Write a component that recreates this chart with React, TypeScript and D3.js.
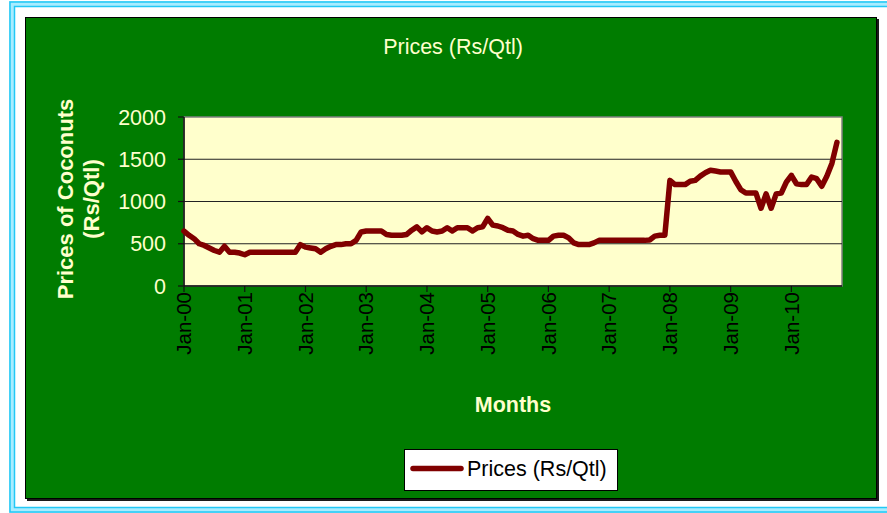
import React, { useEffect, useRef } from "react";
import * as d3 from "d3";

// monthly prices, Jan-00 .. Oct-10
const prices2000 = [650, 600, 560, 500, 480, 450, 420, 400, 470, 400, 400, 390];
const prices2001 = [370, 400, 400, 400, 400, 400, 400, 400, 400, 400, 400, 490];
const prices2002 = [460, 450, 440, 400, 440, 470, 490, 490, 500, 500, 540, 640];
const prices2003 = [650, 650, 650, 650, 610, 600, 600, 600, 610, 660, 700, 640];
const prices2004 = [690, 650, 640, 650, 690, 650, 690, 690, 690, 650, 690, 700];
const prices2005 = [800, 720, 710, 690, 660, 650, 610, 590, 600, 560, 540, 540];
const prices2006 = [540, 590, 600, 600, 570, 510, 490, 490, 490, 510, 540, 540];
const prices2007 = [540, 540, 540, 540, 540, 540, 540, 540, 545, 590, 600, 600];
const prices2008 = [1250, 1200, 1200, 1200, 1240, 1250, 1300, 1340, 1370, 1360, 1350, 1350];
const prices2009 = [1350, 1240, 1140, 1100, 1100, 1100, 920, 1090, 920, 1090, 1100, 1230];
const prices2010 = [1310, 1210, 1200, 1200, 1290, 1270, 1180, 1300, 1450, 1700];

const prices = [
  ...prices2000, ...prices2001, ...prices2002, ...prices2003, ...prices2004, ...prices2005,
  ...prices2006, ...prices2007, ...prices2008, ...prices2009, ...prices2010,
];

const yearTicks = ["Jan-00", "Jan-01", "Jan-02", "Jan-03", "Jan-04", "Jan-05", "Jan-06", "Jan-07", "Jan-08", "Jan-09", "Jan-10"];
const yTicks = [0, 500, 1000, 1500, 2000];

const W = 887;
const H = 513;
const FONT = "'Liberation Sans', Arial, sans-serif";
const PALE = "#FFFFCC";
const LINE = "#800000";

const App = () => {
  const svgRef = useRef<SVGSVGElement>(null);

  useEffect(() => {
    const svg = d3.select(svgRef.current);
    svg.selectAll("*").remove();

    const x = d3.scaleLinear().domain([0, 130]).range([184, 842]);
    const y = d3.scaleLinear().domain([0, 2000]).range([286, 117]);

    // outer cyan frame
    svg.append("rect").attr("x", 12).attr("y", 4).attr("width", 900).attr("height", 506)
      .attr("fill", "none").attr("stroke", "#A8ECFF").attr("stroke-width", 6);
    svg.append("rect").attr("x", 10).attr("y", 2).attr("width", 904).attr("height", 510)
      .attr("fill", "none").attr("stroke", "#22C8F5").attr("stroke-width", 1.5);
    svg.append("rect").attr("x", 14.5).attr("y", 6.5).attr("width", 895).attr("height", 501)
      .attr("fill", "none").attr("stroke", "#22C8F5").attr("stroke-width", 1.5);

    // chart area (green) with shadow
    svg.append("rect").attr("x", 27).attr("y", 19).attr("width", 852).attr("height", 482).attr("fill", "#1a1a1a");
    svg.append("rect").attr("x", 25.5).attr("y", 17.5).attr("width", 851).attr("height", 481)
      .attr("fill", "#007C00").attr("stroke", "#000").attr("stroke-width", 1);

    // plot area
    svg.append("rect").attr("x", 184).attr("y", 117).attr("width", 658).attr("height", 169)
      .attr("fill", PALE).attr("stroke", "#808080").attr("stroke-width", 1.5);

    // gridlines
    svg.append("g").selectAll("line").data(yTicks.filter(d => d > 0 && d < 2000)).join("line")
      .attr("x1", 184).attr("x2", 842)
      .attr("y1", d => y(d)).attr("y2", d => y(d))
      .attr("stroke", "#222").attr("stroke-width", 1.2);

    // axes lines
    svg.append("line").attr("x1", 184).attr("x2", 184).attr("y1", 117).attr("y2", 286)
      .attr("stroke", "#111").attr("stroke-width", 1.5);
    svg.append("line").attr("x1", 184).attr("x2", 842).attr("y1", 286).attr("y2", 286)
      .attr("stroke", "#111").attr("stroke-width", 1.5);

    // y ticks + labels
    svg.append("g").selectAll("line").data(yTicks).join("line")
      .attr("x1", 178).attr("x2", 184)
      .attr("y1", d => y(d)).attr("y2", d => y(d))
      .attr("stroke", "#111").attr("stroke-width", 1.2);
    svg.append("g").selectAll("text").data(yTicks).join("text")
      .attr("x", 166).attr("y", d => y(d)).attr("dy", "0.35em")
      .attr("text-anchor", "end").attr("font-family", FONT).attr("font-size", 21.5)
      .attr("fill", PALE).text(d => d);

    // x ticks + labels
    svg.append("g").selectAll("line").data(yearTicks).join("line")
      .attr("x1", (_, i) => x(i * 12)).attr("x2", (_, i) => x(i * 12))
      .attr("y1", 286).attr("y2", 292)
      .attr("stroke", "#111").attr("stroke-width", 1.2);
    svg.append("g").selectAll("text").data(yearTicks).join("text")
      .attr("transform", (_, i) => `translate(${x(i * 12)},292) rotate(-90)`)
      .attr("dy", "0.35em").attr("text-anchor", "end")
      .attr("font-family", FONT).attr("font-size", 20.5).attr("fill", "#000")
      .text(d => d);

    // price line
    const line = d3.line<number>()
      .x((_, i) => x(i))
      .y(d => y(d));
    svg.append("path").datum(prices)
      .attr("d", line)
      .attr("fill", "none").attr("stroke", LINE).attr("stroke-width", 5.5)
      .attr("stroke-linejoin", "round").attr("stroke-linecap", "round");

    // titles
    svg.append("text").attr("x", 453).attr("y", 54).attr("text-anchor", "middle")
      .attr("font-family", FONT).attr("font-size", 21.5).attr("fill", PALE)
      .text("Prices (Rs/Qtl)");
    svg.append("text").attr("x", 513).attr("y", 412).attr("text-anchor", "middle")
      .attr("font-family", FONT).attr("font-size", 21.5).attr("font-weight", "bold").attr("fill", PALE)
      .text("Months");
    const yTitle = svg.append("text").attr("transform", "translate(65,199) rotate(-90)")
      .attr("text-anchor", "middle").attr("font-family", FONT).attr("font-size", 22)
      .attr("font-weight", "bold").attr("fill", PALE);
    yTitle.append("tspan").attr("x", 0).attr("dy", "0.35em").text("Prices of Coconuts");
    yTitle.append("tspan").attr("x", 0).attr("dy", "1.2em").text("(Rs/Qtl)");

    // legend
    svg.append("rect").attr("x", 404.5).attr("y", 449.5).attr("width", 213).attr("height", 41)
      .attr("fill", "#fff").attr("stroke", "#000").attr("stroke-width", 1);
    svg.append("line").attr("x1", 413).attr("x2", 461).attr("y1", 468.5).attr("y2", 468.5)
      .attr("stroke", LINE).attr("stroke-width", 5.5).attr("stroke-linecap", "round");
    svg.append("text").attr("x", 467).attr("y", 476).attr("font-family", FONT)
      .attr("font-size", 21.5).attr("fill", "#000").text("Prices (Rs/Qtl)");
  }, []);

  return (
    <svg ref={svgRef} width={W} height={H}
      style={{ position: "absolute", left: 0, top: 0, display: "block", background: "#fff" }} />
  );
};

export default App;
